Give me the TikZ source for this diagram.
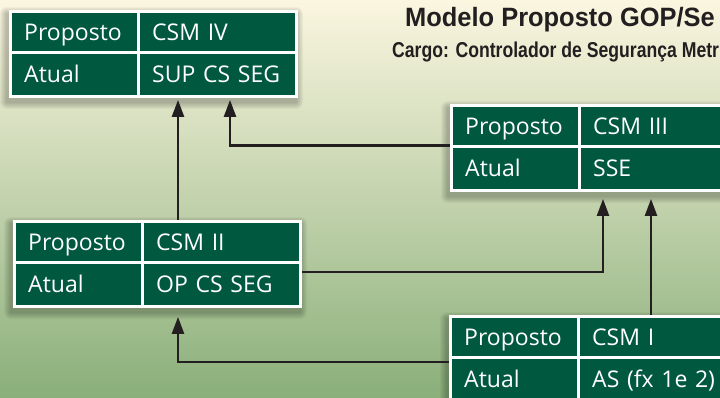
\documentclass[tikz,border=0pt]{standalone}
\usepackage{fontspec}
\setmainfont{Open Sans}
\newfontfamily\titulofont{Liberation Sans}[FakeStretch=0.96]
\newfontfamily\cargofont{Liberation Sans}[FakeStretch=0.82]
\usetikzlibrary{arrows.meta,calc}

\definecolor{verdecaixa}{HTML}{00593F}
\definecolor{fundotopo}{HTML}{FBF6E0}
\definecolor{fundomeio}{HTML}{DCE0C0}
\definecolor{fundobase}{HTML}{8AAF7A}
\definecolor{tinta}{HTML}{231F20}

\tikzset{
  moldura/.style={fill=white, anchor=north west, minimum width=289pt,
    minimum height=88pt, inner sep=0pt},
  celula/.style={fill=verdecaixa, text=white, anchor=north west,
    inner xsep=12pt, inner ysep=0pt, align=left, text height=16.5pt,
    text depth=0pt, font=\fontsize{23}{27}\selectfont},
  seta/.style={draw=tinta, line width=2.5pt,
    -{Triangle[length=17pt,width=12pt]}},
}

% caixa de cargo: nome, x, y, valor proposto, valor atual
\newcommand{\cargo}[5]{%
  \foreach \s in {1,...,7}
    \fill[black, opacity=0.035, rounded corners=\s pt]
      (#2-2-\s, #3+4-\s) rectangle (#2+287+\s, #3+92+\s);
  \node[moldura] (#1) at (#2,#3) {};
  \node[celula, text width=101pt, minimum height=38pt] (#1p)
    at ($(#1.north west)+(3,3)$) {Proposto};
  \node[celula, text width=131pt, minimum height=38pt] (#1pv)
    at ($(#1.north west)+(131,3)$) {#4};
  \node[celula, text width=101pt, minimum height=41pt] (#1a)
    at ($(#1.north west)+(3,44)$) {Atual};
  \node[celula, text width=131pt, minimum height=41pt] (#1av)
    at ($(#1.north west)+(131,44)$) {#5};
}

\begin{document}
\begin{tikzpicture}[x=1pt, y=-1pt]
  \useasboundingbox (0,0) rectangle (720,397);
  \clip (0,0) rectangle (720,397);

  % Fundo
  \shade[top color=fundotopo, middle color=fundomeio, bottom color=fundobase]
    (0,0) rectangle (720,397);

  % Titulo
  \node[anchor=base west, inner sep=0pt, text=tinta,
    font={\titulofont\bfseries\fontsize{26.5}{30}\selectfont}] (titulo)
    at (405,26.5) {Modelo Proposto GOP/Se};
  \node[anchor=base west, inner sep=0pt, text=tinta,
    font={\cargofont\bfseries\fontsize{21.5}{25}\selectfont}] (subtitulo)
    at (392,57.5) {Cargo: Controlador de Segurança Metr};

  % Caixas
  \cargo{csm4}{9}{10}{CSM IV}{SUP CS SEG}
  \cargo{csm3}{450}{104}{CSM III}{SSE}
  \cargo{csm2}{13}{220}{CSM II}{OP CS SEG}
  \cargo{csm1}{449}{315}{CSM I}{AS (fx 1e 2)}

  % Pontos das setas
  \coordinate (s24) at ($(csm2.north west)+(165,0)$);
  \coordinate (s34) at ($(csm4.south west)+(221,0)$);
  \coordinate (s23) at ($(csm2.north east)+(0,52)$);
  \coordinate (t23) at ($(csm3.south west)+(153,0)$);
  \coordinate (s13) at ($(csm1.north west)+(202,0)$);
  \coordinate (s12) at ($(csm1.north west)+(0,47)$);
  \coordinate (t12) at ($(csm2.south west)+(165,0)$);

  % Setas
  \draw[seta, shorten >=1.5pt] (s24) -- (s24 |- csm4.south);
  \draw[seta, shorten >=1.5pt] (csm3.west |- csm3p.south) -| (s34);
  \draw[seta, shorten >=6.5pt] (s23) -| (t23);
  \draw[seta, shorten >=6.5pt] (s13) -- (s13 |- csm3.south);
  \draw[seta, shorten >=8.5pt] (s12) -| (t12);
\end{tikzpicture}
\end{document}
